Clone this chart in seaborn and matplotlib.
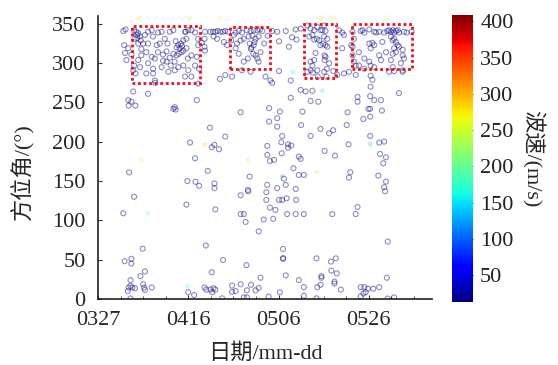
import matplotlib
matplotlib.use("Agg")
import matplotlib.pyplot as plt
import numpy as np
import pandas as pd
import seaborn as sns
from matplotlib.patches import Rectangle
from matplotlib.ticker import MultipleLocator
from matplotlib.colors import Normalize
from matplotlib.cm import ScalarMappable

sns.set_style("ticks")
plt.rcParams["font.family"] = ["Liberation Serif", "Noto Sans CJK SC"]

# ---------------- data (day = days since 03-27, azimuth in degrees) ----------------
date_ticks = [0, 20, 40, 60]
date_labels = ["0327", "0416", "0506", "0526"]
az_ticks = [0, 50, 100, 150, 200, 250, 300, 350]
speed_ticks = [50, 100, 150, 200, 250, 300, 350, 400]
slow_speed = 14  # most detections: low wave speed (dark blue)

box1_pts = [(6.1,343),(8.0,342),(8.9,338),(9.3,334),(8.7,336),(9.5,329),(10.0,325),(11.1,340),(11.9,342),(12.2,334),
            (13.3,339),(14.1,340),(14.8,331),(15.4,325),(15.9,340),(16.7,342),(17.2,328),(17.8,323),(18.1,319),(18.4,325),
            (18.9,329),(19.4,340),(20.0,342),(20.7,342),(21.5,339),(22.2,331),(23.0,326),(23.6,321),(5.8,323),(6.7,319),
            (7.4,311),(9.6,310),(10.7,314),(11.9,308),(12.6,306),(13.3,314),(14.4,311),(15.2,315),(15.9,307),(16.7,312),
            (17.4,310),(18.5,314),(19.6,319),(20.7,310),(21.9,308),(8.9,304),(8.0,297),(7.8,291),(9.3,295),(11.1,300),
            (12.2,293),(14.1,295),(15.2,302),(16.1,297),(17.0,302),(17.8,295),(18.9,297),(20.0,291),(21.5,297),(22.4,293),
            (6.3,304),(10.7,287),(12.6,278),(12.7,275),(19.3,283),(20.7,283),(22.2,274),(12.2,287),(17.0,291),(15.6,289),
            (8.9,325),(9.6,318),(13.7,325),(23.7,340),(23.6,331),(23.7,316),(22.2,323),(19.9,306),(17.4,320),(17.9,312),
            (8.1,331),(10.4,336),(13.0,323),(14.4,303),(11.1,325),(8.3,287),(8.5,340),(8.7,332),(18.6,322),(18.9,316),
            (19.3,340),(19.6,331),(5.6,341),(6.0,313)]
under1_pts = [(7.8,264),(11.1,261),(6.7,253),(7.4,251),(17.0,244),(21.9,253),(17.2,241),(16.7,242)]
gap12_pts = [(24.9,340),(25.5,340),(26.0,340),(26.5,341),(27.1,340),(27.7,340),(28.2,341),(28.8,340),(25.6,334),
             (26.4,331),(27.9,327),(28.6,323),(27.0,280),(28.2,285),(29.7,283)]
box2_pts = [(30.5,339),(31.2,341),(31.9,339),(33.0,342),(33.8,341),(34.5,342),(35.3,342),(35.9,343),(36.4,341),(30.1,336),
            (30.8,325),(31.6,329),(32.3,331),(33.4,334),(34.2,335),(34.9,331),(35.6,334),(33.6,325),(34.5,323),(33.9,318),
            (34.4,312),(34.9,310),(35.3,306),(35.6,302),(32.3,302),(31.2,312),(30.5,319),(33.2,306),(36.0,314),(36.8,325),
            (37.6,335),(29.5,329),(34.0,320),(34.7,327),(31.9,291),(33.8,289)]
gap23_pts = [(37.1,283),(38.2,278),(38.6,275),(40.1,328),(42.3,321),(40.1,290),(42.7,278),(42.7,256),(43.0,333),(43.8,343),
             (44.9,344),(44.0,330),(38.6,341),(39.7,340),(41.6,341),(44.9,266),(46.0,264),(47.5,265),(47.1,252),(48.8,251)]
box3_pts = [(46.4,348),(47.1,344),(47.9,342),(48.6,346),(49.3,342),(50.1,348),(46.8,334),(47.5,336),(48.5,331),(49.0,329),
            (49.3,323),(47.1,302),(47.5,297),(46.4,289),(47.1,291),(48.6,291),(49.7,342),(50.4,341),(50.1,334),(50.8,331),
            (49.9,325),(50.4,323),(50.2,310),(50.2,304),(50.7,293),(50.1,289),(47.6,288),(48.7,283),(50.6,283),(47.9,330),
            (48.2,313),(47.9,304),(50.8,321),(50.4,308),(51.2,300)]
gap34_pts = [(52.1,290),(53.0,285),(54.5,287),(53.4,342),(54.1,339),(54.5,336),(54.1,319),(55.6,289),(57.1,285)]
box4_pts = [(56.4,340),(56.7,331),(56.1,323),(56.4,321),(56.4,310),(56.7,302),(57.1,297),(57.8,314),(58.2,341),(58.6,342),
            (59.0,339),(60.1,343),(61.2,340),(61.6,339),(62.3,340),(63.4,339),(64.1,341),(64.5,342),(64.9,340),(65.3,342),
            (65.6,339),(66.0,341),(66.4,342),(66.7,339),(67.8,340),(68.4,339),(64.9,334),(65.3,329),(65.6,331),(66.0,327),
            (66.4,323),(65.6,319),(66.7,321),(66.0,314),(65.3,312),(60.1,325),(60.8,326),(60.4,319),(61.2,323),(59.0,306),
            (60.1,302),(60.4,297),(67.5,317),(67.5,310),(67.8,306),(67.1,300),(64.9,304),(65.3,295),(67.5,291),(63.0,327),
            (63.8,314),(62.3,310),(62.7,304),(57.8,297),(59.0,293),(61.2,295),(69.5,340)]
under4_pts = [(60.4,284),(60.8,279),(60.4,270),(60.3,258),(61.2,253),(57.5,257),(57.5,251),(62.7,253),(66.7,262),
              (64.5,289),(65.6,290),(67.5,289),(60.3,242)]
low_left_pts = [(6.8,246),(8.3,246),(24.8,218),(20.4,199),(25.2,193),(21.5,179),(6.9,161),(24.3,163),(19.8,150),(21.6,149),
                (22.4,144),(8.0,130),(19.6,120),(5.6,109),(23.9,68),(9.9,64),(5.9,48),(7.4,51),(7.4,45),(10.4,35),
                (9.4,29),(25.2,34),(7.2,24),(7.2,16.5),(6.8,14.5),(7.6,14.5),(8.2,13.6),(6.6,10),(10.0,18.7),(10.2,14.5),
                (11.9,14.5),(10.4,11.5),(20.0,8.5),(21.3,5),(23.6,14.5),(7.2,0.6),(24.0,11.9),(24.9,11.9),(25.6,13.6),
                (25.3,8.5),(26.0,11.9),(27.7,49.6),(26.0,114),(27.5,0.8),(28.2,206.6),(25.8,196),(26.8,190.5),(25.8,147),
                (25.8,141)]
low_mid_pts = [(29.7,17),(31.6,18.7),(33.0,11),(33.9,18),(34.9,11),(35.6,14),(36.0,27),(29.7,9),(30.5,10),(32.9,43),
               (31.6,132),(33.3,137),(31.6,108),(32.3,108),(32.7,98),(35.6,86),(36.7,101),(41.9,108),(43.8,108),(45.6,108),
               (41.0,63.6),(41.0,52),(41.0,51),(40.3,8.5),(37.8,3),(41.6,30),(44.5,24),(45.6,15),(45.6,4),(32.3,2),
               (33.0,2),(31.6,237.5),(37.9,242.7),(40.3,238.4),(45.3,238.4),(37.9,225.7),(39.7,230),(39.7,219.3),(45.0,221.4),
               (40.8,207.4),(47.1,207.4),(37.5,194.7),(40.6,199.4),(42.1,196.8),(42.8,195.2),(42.1,192.6),(37.5,183.3),
               (40.7,185.4),(44.5,181.2),(44.9,178.2),(38.1,175.6),(39.0,176.9),(43.3,166.3),(44.5,157.8),(45.6,157.8),
               (33.6,155.7),(37.5,145.1),(41.6,145.1),(33.2,138.7),(43.8,140),(37.3,135.8),(37.3,126),(40.1,126),
               (40.8,126),(41.8,128),(38.1,116.2),(39.3,113.3),(38.8,102),(39.7,141),(41.2,153),(43.9,126)]
low_right_pts = [(48.4,51.6),(48.6,15),(48.4,0.8),(49.3,18),(49.5,29),(49.5,27),(51.6,47.5),(52.7,51.6),(51.7,36),
                 (52.9,32.5),(52.4,22),(52.4,19.6),(53.8,11.9),(51.9,108),(57.1,108),(57.5,117),(58.2,15),(59.0,15),
                 (59.8,13),(61.0,13),(62.3,15),(58.2,3.4),(58.8,6.8),(59.3,8.5),(64.2,73),(64.0,27),(64.2,0.5),(65.6,2),
                 (63.6,137),(49.3,216.4),(55.3,237.6),(59.9,241.8),(62.9,239.7),(58.8,229),(60.3,232),(55.1,221.4),
                 (51.2,210.8),(52.1,214.7),(60.3,207.4),(55.5,196.8),(62.3,199),(63.4,200.2),(50.2,188.4),(52.5,182.4),
                 (62.5,184.5),(63.8,180.3),(63.2,172.7),(55.9,161.2),(55.6,154.4),(62.1,157),(63.8,149.3),(63.4,142.1)]

# higher-speed (coloured, faint) detections
fast_day = [9.0, 20.3, 27.1, 49.3, 51.9, 64.2, 43.4, 23.7, 9.6, 11.0, 33.2, 48.5, 40.8, 43.2, 49.7, 60.3, 19.8]
fast_az = [357, 357, 357, 357, 357, 357, 342, 196, 177, 109, 177, 162, 156, 289, 265, 197, 16]
fast_speed = [285, 280, 255, 290, 280, 265, 245, 300, 235, 200, 230, 235, 130, 150, 150, 130, 170]

# highlighted clusters: (day0, az0, day1, az1)
boxes = [(7.5, 275, 22.5, 347), (29.2, 293, 38.0, 346), (45.6, 281, 52.8, 350), (56.2, 292, 69.6, 350)]

# ---------------- figure ----------------
all_pts = (box1_pts + under1_pts + gap12_pts + box2_pts + gap23_pts + box3_pts + gap34_pts + box4_pts
           + under4_pts + low_left_pts + low_mid_pts + low_right_pts)
slow_df = pd.DataFrame(all_pts, columns=["day", "azimuth"])
slow_df["speed"] = slow_speed
fast_df = pd.DataFrame({"day": fast_day, "azimuth": fast_az, "speed": fast_speed})

vmin, vmax = 13, 409
norm = Normalize(vmin=vmin, vmax=vmax)
jet = matplotlib.colormaps["jet"]

fig = plt.figure(figsize=(5.58, 3.65), dpi=100)
ax = fig.add_axes([0.1756, 0.181, 0.5986, 0.775])
cax = fig.add_axes([0.810, 0.173, 0.038, 0.786])

def hollow(coll):
    fc = coll.get_facecolors()
    coll.set_edgecolors(fc)
    coll.set_facecolors("none")

sns.scatterplot(data=fast_df, x="day", y="azimuth", hue="speed", palette=jet, hue_norm=norm,
                legend=False, s=14, linewidth=0, alpha=0.22, ax=ax)
sns.scatterplot(data=slow_df, x="day", y="azimuth", hue="speed", palette=jet, hue_norm=norm,
                legend=False, s=13, linewidth=0.8, alpha=0.45, ax=ax)
hollow(ax.collections[-1])

for d0, a0, d1, a1 in boxes:
    ax.add_patch(Rectangle((d0, a0), d1 - d0, a1 - a0, fill=False, edgecolor="#e8121a",
                           linestyle=(0, (1, 1)), linewidth=2.0, zorder=5))

ax.set_xlim(0, 74)
ax.set_ylim(0, 360)
ax.set_xticks(date_ticks)
ax.set_xticklabels(date_labels)
ax.xaxis.set_minor_locator(MultipleLocator(5))
ax.set_yticks(az_ticks)
ax.tick_params(axis="both", which="both", direction="in", labelsize=16, color="#333333")
ax.tick_params(axis="both", which="major", length=3)
ax.tick_params(axis="x", which="minor", length=2)
ax.tick_params(axis="x", pad=9)
ax.tick_params(axis="y", pad=9)
sns.despine(ax=ax)
for sp in ["left", "bottom"]:
    ax.spines[sp].set_linewidth(1.2)
    ax.spines[sp].set_color("#222222")
ax.set_xlabel("日期/mm-dd", fontsize=16, labelpad=9)
ax.set_ylabel("方位角/(°)", fontsize=16, labelpad=8)
ax.yaxis.set_label_coords(-0.19, 0.45)

sm = ScalarMappable(norm=norm, cmap=jet)
cb = fig.colorbar(sm, cax=cax)
cb.set_ticks(speed_ticks)
cb.outline.set_visible(False)
cax.tick_params(direction="in", length=2, labelsize=16, colors="#222222", pad=5)
cb.set_label("波速/(m/s)", fontsize=16, rotation=270, labelpad=22)

fig.savefig("out.png", dpi=100, facecolor="white")
